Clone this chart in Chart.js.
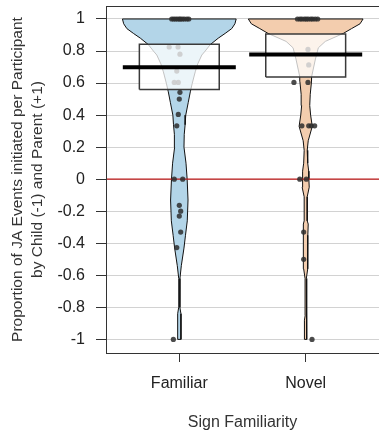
<!DOCTYPE html>
<html>
<head>
<meta charset="utf-8">
<script src="https://cdn.jsdelivr.net/npm/chart.js@4.4.1/dist/chart.umd.min.js"></script>
<style>
html,body{margin:0;padding:0;background:#fff;}
canvas{display:block;}
</style>
</head>
<body>
<canvas id="c" width="379" height="433"></canvas>
<script>
// ---------- data ----------
const categories = ['Familiar', 'Novel'];
const yTickValues = [1, 0.8, 0.6, 0.4, 0.2, 0, -0.2, -0.4, -0.6, -0.8, -1];
const yTickLabels = ['1', '0.8', '0.6', '0.4', '0.2', '0', '-0.2', '-0.4', '-0.6', '-0.8', '-1'];
const means = [0.698, 0.779];
const boxLow = [0.56, 0.6375];
const boxHigh = [0.842, 0.906];

// violin density profiles (value, half-width in category units)
const famDensY = [1.0, 0.97, 0.94, 0.91, 0.88, 0.84, 0.80, 0.775, 0.72, 0.67, 0.60, 0.545, 0.48, 0.40, 0.34, 0.28, 0.20, 0.10, 0.0, -0.13, -0.26, -0.35, -0.43, -0.54, -0.62, -0.70, -0.80, -0.84, -1.0];
const famDensW = [0.450, 0.440, 0.415, 0.363, 0.308, 0.245, 0.205, 0.178, 0.146, 0.126, 0.103, 0.087, 0.071, 0.051, 0.046, 0.039, 0.037, 0.053, 0.062, 0.069, 0.063, 0.049, 0.037, 0.016, 0.005, 0.004, 0.005, 0.013, 0.013];
const novDensY = [1.0, 0.97, 0.94, 0.91, 0.86, 0.82, 0.75, 0.64, 0.61, 0.53, 0.46, 0.40, 0.33, 0.24, 0.18, 0.10, 0.05, 0.0, -0.05, -0.11, -0.26, -0.28, -0.35, -0.56, -0.62, -0.85, -0.88, -1.0];
const novDensW = [0.454, 0.430, 0.363, 0.298, 0.155, 0.100, 0.077, 0.047, 0.046, 0.036, 0.032, 0.039, 0.052, 0.020, 0.012, 0.016, 0.024, 0.025, 0.028, 0.012, 0.012, 0.020, 0.017, 0.016, 0.005, 0.004, 0.010, 0.010];

// participant values and horizontal jitter (category units)
const famValues = [1, 1, 1, 1, 1, 1, 1, 1, 1, 1, 0.825, 0.825, 0.78, 0.675, 0.604, 0.604, 0.542, 0.5, 0.404, 0.333, 0, 0, -0.163, -0.2, -0.23, -0.33, -0.427, -1];
const famJitter = [-0.06, -0.045, -0.03, -0.015, 0, 0.01, 0.025, 0.04, 0.06, 0.075, -0.08, -0.01, 0.005, -0.02, -0.04, -0.008, 0.005, 0, -0.008, -0.02, -0.04, 0.027, 0, 0.011, 0, 0.011, -0.02, -0.047];
const novValues = [1, 1, 1, 1, 1, 1, 1, 1, 1, 1, 0.81, 0.713, 0.604, 0.604, 0.333, 0.333, 0.333, 0.333, 0, 0, -0.33, -0.5, -1];
const novJitter = [-0.065, -0.045, -0.03, -0.01, 0.005, 0.02, 0.04, 0.055, 0.075, 0.095, 0.018, 0.024, -0.093, 0.018, -0.03, 0.024, 0.044, 0.071, -0.047, 0.005, -0.016, -0.016, 0.05];

// ---------- styling ----------
const FONT = "'Liberation Sans', Arial, sans-serif";
const beanFill = ['rgb(179,213,232)', 'rgb(243,205,174)'];
const BOX_HALF = 0.316;
const MEAN_HALF = 0.447;

function violinPolygon(center, ys, ws) {
  const pts = [];
  for (let i = 0; i < ys.length; i++) pts.push({x: center + ws[i], y: ys[i]});
  for (let i = ys.length - 1; i >= 0; i--) pts.push({x: center - ws[i], y: ys[i]});
  pts.push({x: center + ws[0], y: ys[0]});
  return pts;
}
function boxPolygon(center, lo, hi) {
  return [
    {x: center - BOX_HALF, y: lo}, {x: center + BOX_HALF, y: lo},
    {x: center + BOX_HALF, y: hi}, {x: center - BOX_HALF, y: hi},
    {x: center - BOX_HALF, y: lo}
  ];
}
function pointsOf(center, vals, jit) {
  return vals.map((v, i) => ({x: center + jit[i], y: v}));
}

const datasets = [];
const dens = [[famDensY, famDensW], [novDensY, novDensW]];
const vals = [[famValues, famJitter], [novValues, novJitter]];
categories.forEach((c, i) => {
  const cx = i + 1;
  datasets.push({
    label: c + ' bean', data: violinPolygon(cx, dens[i][0], dens[i][1]),
    showLine: true, fill: 'shape', backgroundColor: beanFill[i],
    borderColor: '#111', borderWidth: 1, pointRadius: 0, tension: 0, order: 10
  });
});
datasets.push({
  label: 'zero', data: [{x: 0.3, y: 0}, {x: 2.7, y: 0}],
  showLine: true, borderColor: 'rgb(190,25,25)', borderWidth: 1.3, pointRadius: 0, order: 9
});
categories.forEach((c, i) => {
  const cx = i + 1;
  datasets.push({
    label: c + ' points', data: pointsOf(cx, vals[i][0], vals[i][1]),
    showLine: false, pointRadius: 2.6, pointBorderWidth: 0,
    backgroundColor: 'rgba(45,45,45,0.85)', order: 8
  });
});
categories.forEach((c, i) => {
  const cx = i + 1;
  datasets.push({
    label: c + ' box', data: boxPolygon(cx, boxLow[i], boxHigh[i]),
    showLine: true, fill: 'shape', backgroundColor: 'rgba(255,255,255,0.75)',
    borderColor: '#3a3a3a', borderWidth: 1.5, pointRadius: 0, order: 7
  });
  datasets.push({
    label: c + ' mean', data: [{x: cx - MEAN_HALF, y: means[i]}, {x: cx + MEAN_HALF, y: means[i]}],
    showLine: true, borderColor: '#000', borderWidth: 4, borderCapStyle: 'butt', pointRadius: 0, order: 6
  });
});

const framePlugin = {
  id: 'frame',
  afterDatasetsDraw(chart) {
    const a = chart.chartArea, ctx = chart.ctx;
    ctx.save();
    ctx.strokeStyle = '#333';
    ctx.lineWidth = 1;
    ctx.strokeRect(a.left + 0.5, a.top + 0.5, a.right - a.left, a.bottom - a.top);
    ctx.restore();
  }
};
function noPad(s) { s.paddingTop = 0; s.paddingBottom = 0; s.paddingLeft = 0; s.paddingRight = 0; }

new Chart(document.getElementById('c'), {
  type: 'scatter',
  data: {datasets},
  plugins: [framePlugin],
  options: {
    responsive: false, animation: false, devicePixelRatio: 1,
    layout: {autoPadding: false, padding: {top: 6, right: 0, left: 0, bottom: 0}},
    plugins: {legend: {display: false}, tooltip: {enabled: false}},
    scales: {
      x: {
        type: 'linear', min: 0.42, max: 2.58,
        afterFit(s) { s.height = 80; noPad(s); },
        afterBuildTicks(s) { s.ticks = categories.map((c, i) => ({value: i + 1})); },
        ticks: {
          callback: (v) => categories[Math.round(v) - 1] || '',
          color: '#222', font: {family: FONT, size: 16}, padding: 12, maxRotation: 0
        },
        grid: {drawOnChartArea: false, tickLength: 9, tickColor: '#333', color: '#333'},
        border: {display: true, color: '#333'},
        title: {display: true, text: 'Sign Familiarity', color: '#333',
                font: {family: FONT, size: 16, lineHeight: 20 / 16}, padding: {top: 0, bottom: 0}}
      },
      y: {
        type: 'linear', min: -1.085, max: 1.081,
        afterFit(s) { s.width = 106; noPad(s); },
        afterBuildTicks(s) { s.ticks = yTickValues.map(v => ({value: v})); },
        ticks: {
          callback: (v) => { const k = yTickValues.findIndex(t => Math.abs(t - v) < 1e-6); return k >= 0 ? yTickLabels[k] : ''; },
          color: '#222', font: {family: FONT, size: 16}, padding: 11
        },
        grid: {color: 'rgb(210,210,210)', lineWidth: 1, tickLength: 10, tickColor: '#333'},
        border: {display: true, color: '#333'},
        title: {display: true, text: ['Proportion of JA Events initiated per Participant', 'by Child (-1) and Parent (+1)'],
                color: '#333', font: {family: FONT, size: 15.5, lineHeight: 20 / 15.5}, padding: {top: 8, bottom: 0}}
      }
    }
  }
});
</script>
</body>
</html>
